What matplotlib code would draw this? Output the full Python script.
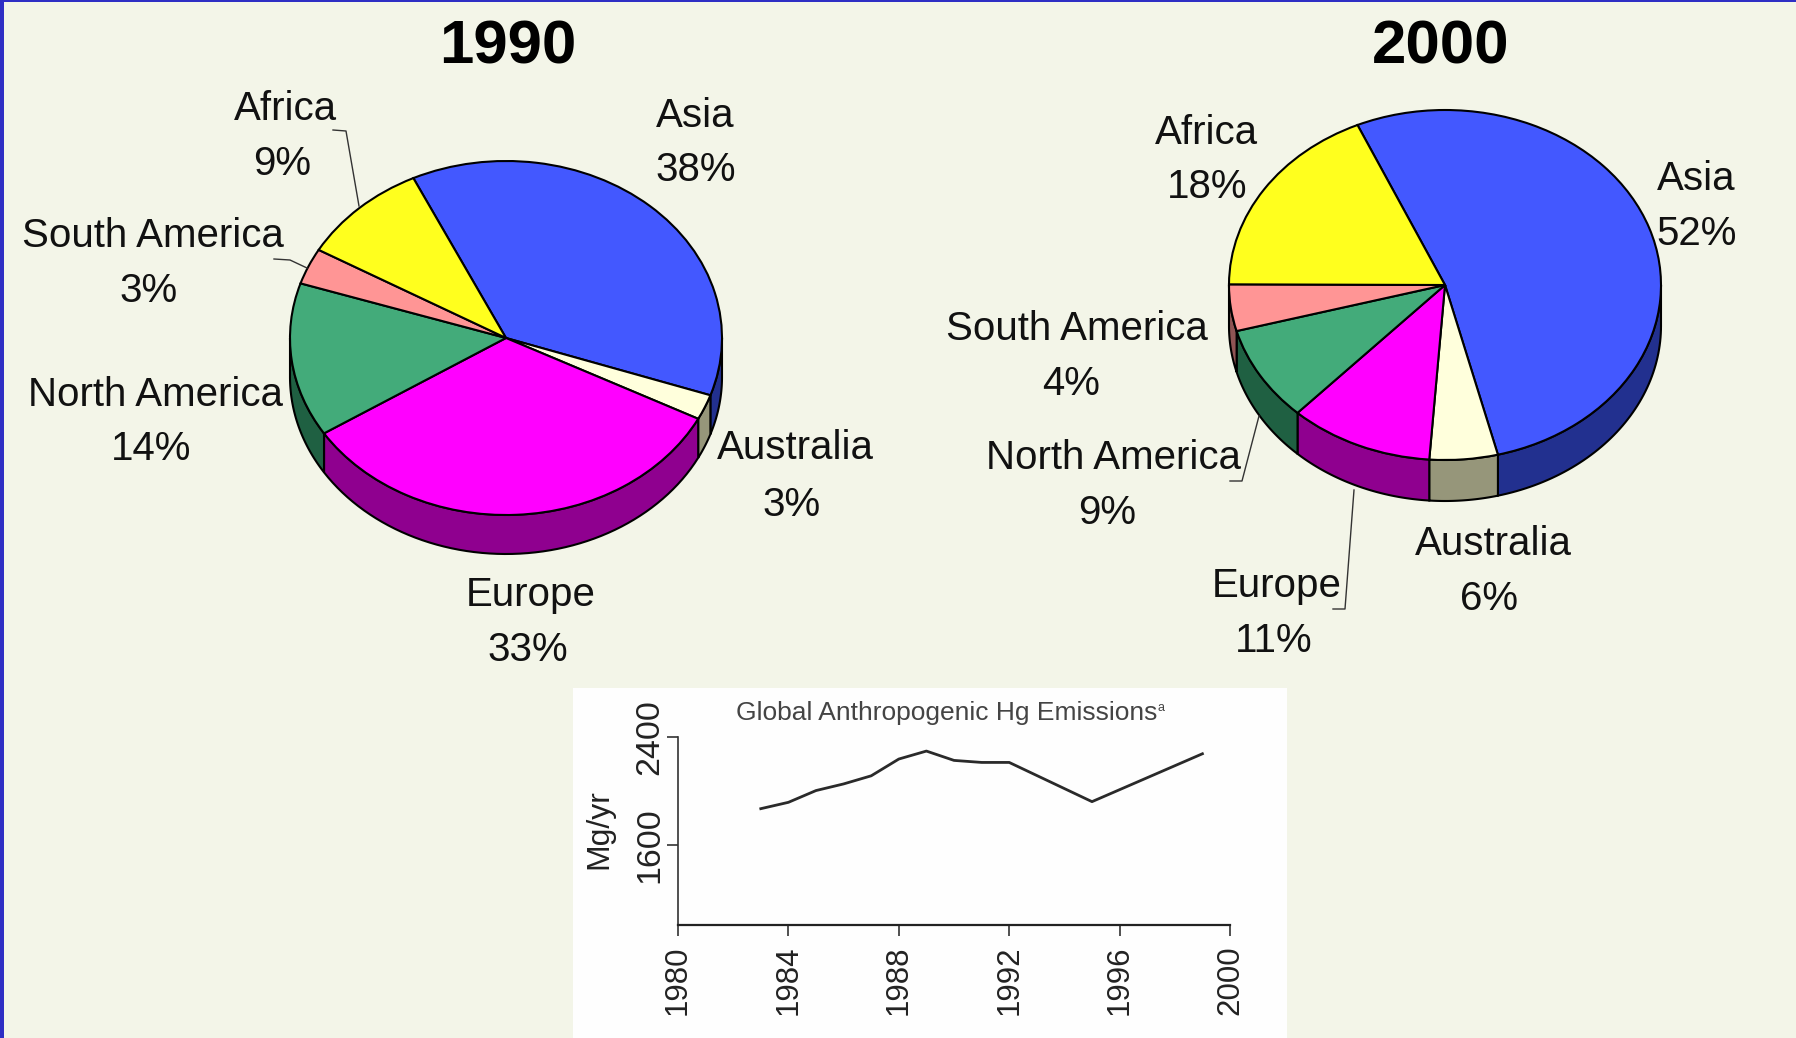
import numpy as np
import matplotlib
matplotlib.use('Agg')
import matplotlib.pyplot as plt
from matplotlib.patches import Rectangle

plt.rcParams['font.family'] = ['Liberation Sans', 'DejaVu Sans']

regions = ['Asia', 'Australia', 'Europe', 'North America', 'South America', 'Africa']
shares_1990 = [37.3, 2.3, 33.4, 14.05, 3.3, 9.65]
shares_2000 = [52.7, 5.1, 10.8, 8.8, 4.3, 18.3]
pct_1990 = ['38%', '3%', '33%', '14%', '3%', '9%']
pct_2000 = ['52%', '6%', '11%', '9%', '4%', '18%']

top_colors = ['#4358FF', '#FFFFDC', '#FF00FF', '#43AB7A', '#FF9595', '#FFFF1E']
side_colors = ['#22308F', '#96967A', '#8F008F', '#1F6042', '#8F5454', '#8F8F10']

years = [1983, 1984, 1985, 1986, 1987, 1988, 1989, 1990, 1991, 1992, 1995, 1999]
emissions = [1870, 1917, 2004, 2053, 2113, 2237, 2296, 2227, 2212, 2212, 1922, 2276]
year_ticks = [1980, 1984, 1988, 1992, 1996, 2000]
emission_ticks = [1600, 2400]

W, H = 1796, 1038
BG = '#F3F5E8'
INK = '#111111'

fig = plt.figure(figsize=(W/100, H/100), dpi=100, facecolor=BG)


def px_axes(left, top, right, bottom, **kw):
    # axes from pixel box, y counted from the top of the picture
    return fig.add_axes([left/W, 1-bottom/H, (right-left)/W, (bottom-top)/H], **kw)


def pie3d(cx, cy, rx, ry, depth, shares, start):
    ax = px_axes(cx-rx, cy-ry, cx+rx, cy+ry+depth)
    d = depth/ry
    # walls first, top face goes over them
    edges = start - np.cumsum([0] + shares)*3.6
    for i in range(len(shares)):
        # only the front half of the rim can be seen
        lo, hi = max(edges[i+1], -180), min(edges[i], 0)
        if hi <= lo:
            continue
        t = np.radians(np.linspace(lo, hi, 60))
        x = np.cos(t)
        y = np.sin(t)
        ax.fill(np.r_[x, x[::-1]], np.r_[y, y[::-1]-d], fc=side_colors[i],
                ec='black', lw=1.5, clip_on=False, zorder=1)
    wedges, _ = ax.pie(shares, colors=top_colors, startangle=start, counterclock=False,
                       wedgeprops=dict(edgecolor='black', linewidth=1.5, zorder=2))
    ax.set_aspect('auto')
    ax.set_xlim(-1, 1)
    ax.set_ylim(-1-d, 1)
    for w in wedges:
        w.set_clip_on(False)
    return ax


pie3d(506, 338, 216, 177, 39, shares_1990, 115.4)
pie3d(1445, 285, 216, 175, 41, shares_2000, 113.9)

# top layer in picture pixels for text, leaders, border
top = px_axes(0, 0, W, H, facecolor='none')
top.set_xlim(0, W)
top.set_ylim(H, 0)
top.axis('off')
top.add_patch(Rectangle((0, 0), 4, H, fc='#2E2EC4', ec='none'))
top.add_patch(Rectangle((0, 0), W, 2, fc='#2E2EC4', ec='none'))

top.text(508, 48, '1990', fontsize=44.5, fontweight='bold', color='black', ha='center', va='center')
top.text(1441, 48, '2000', fontsize=44.5, fontweight='bold', color='black', ha='center', va='center')

# name centre, percent centre for every region
spots_1990 = [((695, 116), (696, 170)), ((795, 448), (792, 505)), ((531, 595), (528, 650)),
              ((155, 395), (151, 449)), ((153, 236), (149, 291)), ((285, 109), (282, 164))]
spots_2000 = [((1696, 179), (1697, 234)), ((1493, 544), (1489, 599)), ((1277, 586), (1274, 641)),
              ((1114, 458), (1107, 513)), ((1077, 329), (1071, 384)), ((1206, 133), (1207, 187))]

for spots, pcts in ((spots_1990, pct_1990), (spots_2000, pct_2000)):
    for name, pct, (p0, p1) in zip(regions, pcts, spots):
        top.text(p0[0], p0[1], name, fontsize=29, color=INK, ha='center', va='center')
        top.text(p1[0], p1[1], pct, fontsize=29, color=INK, ha='center', va='center')

# leader lines
for xs, ys in (([333, 346, 359], [130, 131, 206]),
               ([274, 290, 307], [259, 260, 268]),
               ([1230, 1242, 1259], [481, 481, 416]),
               ([1333, 1345, 1354], [609, 609, 490])):
    top.plot(xs, ys, color='#333333', lw=1.0)

# little emissions chart on its white panel
top.add_patch(Rectangle((573, 688), 714, 350, fc='#FEFEFE', ec='none', zorder=0))

ax = px_axes(678, 737, 1230, 925, facecolor='none')
ax.plot(years, emissions, color='#2A2A2A', lw=2.0)
ax.set_xlim(1980, 2000)
ax.set_ylim(1010, 2400)
ax.spines['top'].set_visible(False)
ax.spines['right'].set_visible(False)
ax.spines['left'].set_color('#333333')
ax.spines['bottom'].set_color('#222222')
ax.spines['left'].set_linewidth(1.2)
ax.spines['bottom'].set_linewidth(1.6)
ax.set_xticks(year_ticks)
ax.set_yticks(emission_ticks)
ax.set_xticklabels(year_ticks, rotation=90, fontsize=22.5, color='#222222')
ax.set_yticklabels(emission_ticks, rotation=90, va='center', fontsize=24.5, color='#222222')
ax.tick_params(axis='both', length=8, width=1.2, color='#333333')
ax.tick_params(axis='x', pad=7)
ax.tick_params(axis='y', pad=1)

top.text(599, 829, 'Mg/yr', rotation=90, fontsize=23, color='#222222', ha='center', va='center')
top.text(947, 713, 'Global Anthropogenic Hg Emissions', fontsize=19, color='#444444', ha='center', va='center')
top.text(1161, 708, 'a', fontsize=9, color='#444444', ha='center', va='center')

fig.savefig('out.png', dpi=100, facecolor=BG)
